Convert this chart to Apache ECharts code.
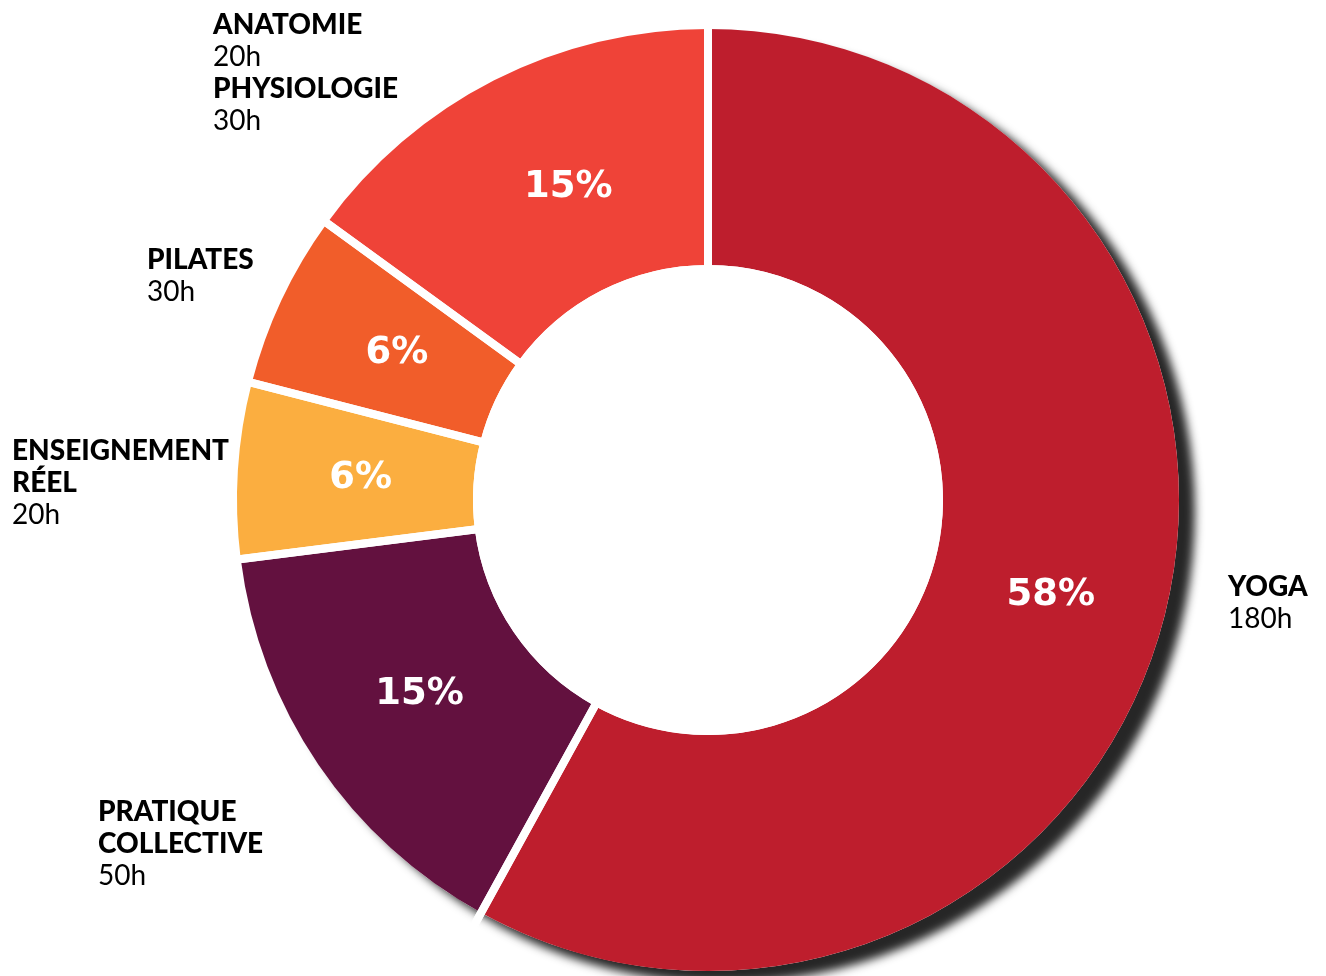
<!DOCTYPE html>
<html>
<head>
<meta charset="utf-8">
<script src="https://cdn.jsdelivr.net/npm/echarts@6.0.0/dist/echarts.min.js"></script>
<style>
  html, body { margin: 0; padding: 0; background: #fff; }
  #chart { width: 1326px; height: 976px; }
</style>
</head>
<body>
<div id="chart"></div>
<script>
// répartition des heures de formation
const categories = ['YOGA', 'PRATIQUE COLLECTIVE', 'ENSEIGNEMENT RÉEL', 'PILATES', 'ANATOMIE / PHYSIOLOGIE'];
const shares = [58, 15, 6, 6, 15];
const labelText = [
    ['YOGA', '180h'],
    ['PRATIQUE', 'COLLECTIVE', '50h'],
    ['ENSEIGNEMENT', 'RÉEL', '20h'],
    ['PILATES', '30h'],
    ['ANATOMIE', '20h', 'PHYSIOLOGIE', '30h']
];

const colors = ['#BE1E2D', '#63113F', '#FBAE40', '#F15D2A', '#EF4338'];
// coin haut-gauche de chaque étiquette extérieure
const labelPos = [[1228, 571], [98, 796], [12, 435], [147, 244], [213, 9]];
// petit décalage des pourcentages par rapport au milieu de la part
const pctNudge = [[-2, 7], [6, -6], [8, 1], [11, 5], [22, 5]];

const center = [708, 500];
const font = 'Lato, "Open Sans", sans-serif';

const chart = echarts.init(document.getElementById('chart'));

const sliceData = categories.map((name, i) => ({
    name: name,
    value: shares[i],
    itemStyle: { color: colors[i] }
}));

const total = shares.reduce((a, b) => a + b, 0);

const option = {
    animation: false,
    backgroundColor: '#fff',
    series: [
        {
            // disque blanc derrière l'anneau, porte l'ombre
            type: 'pie',
            z: 1,
            silent: true,
            center: center,
            radius: [0, 471],
            label: { show: false },
            labelLine: { show: false },
            itemStyle: {
                color: '#fff',
                shadowBlur: 10,
                shadowOffsetX: 16,
                shadowOffsetY: 12,
                shadowColor: 'rgba(0,0,0,0.85)'
            },
            data: [{ value: total }]
        },
        {
            type: 'pie',
            z: 2,
            silent: true,
            center: center,
            radius: [235, 471],
            startAngle: 90,
            avoidLabelOverlap: false,
            label: {
                show: true,
                position: 'inside',
                formatter: '{c}%',
                color: '#fff',
                fontFamily: '"DejaVu Sans", sans-serif',
                fontSize: 37,
                fontWeight: 'bold'
            },
            labelLayout: (params) => {
                const d = pctNudge[params.dataIndex];
                return { dx: d[0], dy: d[1] };
            },
            labelLine: { show: false },
            data: sliceData
        },
        {
            // traits blancs entre les parts + étiquettes extérieures
            type: 'pie',
            z: 3,
            silent: true,
            center: center,
            radius: [231, 560],
            startAngle: 90,
            avoidLabelOverlap: false,
            itemStyle: {
                color: 'rgba(0,0,0,0)',
                borderColor: '#fff',
                borderWidth: 8
            },
            label: {
                show: true,
                position: 'outside',
                formatter: (p) => labelText[p.dataIndex]
                    .map(t => /^\d+h$/.test(t) ? '{h|' + t + '}' : '{n|' + t + '}')
                    .join('\n'),
                rich: {
                    n: { fontFamily: font, fontSize: 28, fontWeight: 900, color: '#000', lineHeight: 32 },
                    h: { fontFamily: font, fontSize: 28, fontWeight: 'normal', color: '#000', lineHeight: 32 }
                }
            },
            labelLine: { show: false },
            labelLayout: (params) => {
                const p = labelPos[params.dataIndex];
                return { x: p[0], y: p[1], align: 'left', verticalAlign: 'top' };
            },
            data: categories.map((name, i) => ({ name: name, value: shares[i] }))
        }
    ]
};

chart.setOption(option);

window.addEventListener('resize', () => {
    chart.resize();
});
</script>
</body>
</html>
